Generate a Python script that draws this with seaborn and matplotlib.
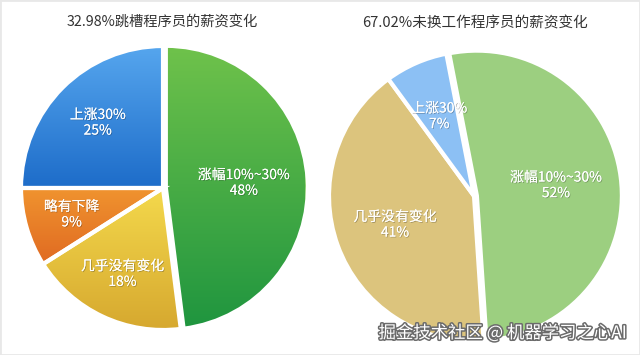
import matplotlib
matplotlib.use('Agg')
import numpy as np
import matplotlib.pyplot as plt
import matplotlib.patheffects as pe
from matplotlib.patches import PathPatch, Rectangle
import seaborn as sns

sns.set_theme(style='white')
plt.rcParams['font.family'] = ['Noto Sans CJK SC', 'DejaVu Sans']

# ---- data ----
left_title = '32.98%跳槽程序员的薪资变化'
left_labels = ['涨幅10%~30%', '几乎没有变化', '略有下降', '上涨30%']
left_values = [48, 18, 9, 25]

right_title = '67.02%未换工作程序员的薪资变化'
right_labels = ['涨幅10%~30%', '几乎没有变化', '上涨30%']
right_values = [52, 41, 7]

watermark = '掘金技术社区 @ 机器学习之心AI'

# left pie is shaded (bottom colour, top colour); right pie is flat
left_grads = [('#1f953f', '#6fc24b'), ('#d6a82f', '#f4d94c'),
              ('#e06a22', '#f0942f'), ('#1d6cc9', '#56a6ee')]
right_colors = ['#9ccf80', '#dcc47d', '#8cc0f4']

W, H = 640, 355
fig = plt.figure(figsize=(W / 100, H / 100), dpi=100)
fig.patch.set_facecolor('white')


def make_ax(cx, cy, r):
    return fig.add_axes([(cx - r) / W, (H - cy - r) / H, 2 * r / W, 2 * r / H])


lbl_fx = [pe.withSimplePatchShadow(offset=(0.6, -0.6), shadow_rgbFace='k', alpha=0.3),
          pe.Normal()]


def draw_labels(ax, wedges, labels, values, dists):
    for w, lab, v, d in zip(wedges, labels, values, dists):
        a = np.deg2rad((w.theta1 + w.theta2) / 2)
        x = w.center[0] + d * w.r * np.cos(a)
        y = w.center[1] + d * w.r * np.sin(a)
        ax.text(x, y, f'{lab}\n{v}%', ha='center', va='center', color='white',
                fontsize=10, linespacing=1.15, path_effects=lbl_fx, zorder=10)


# ---- left pie ----
ax1 = make_ax(163, 188, 142)
w1, _ = ax1.pie(left_values, startangle=90, counterclock=False,
                explode=[0.02, 0, 0, 0],
                colors=[g[1] for g in left_grads],
                wedgeprops=dict(edgecolor='white', linewidth=3))
grad = np.linspace(0, 1, 256).reshape(-1, 1)
for w, (bot, top) in zip(w1, left_grads):
    bb = w.get_path().get_extents()
    cmap = sns.blend_palette([bot, top], as_cmap=True)
    im = ax1.imshow(grad, extent=(bb.x0, bb.x1, bb.y0, bb.y1), origin='lower',
                    cmap=cmap, aspect='auto', zorder=w.get_zorder() + 0.1)
    im.set_clip_path(w)
    ax1.add_patch(PathPatch(w.get_path(), facecolor='none', edgecolor='white',
                            linewidth=3, zorder=w.get_zorder() + 0.2))
draw_labels(ax1, w1, left_labels, left_values, [0.55, 0.67, 0.67, 0.65])
ax1.set_xlim(-1, 1); ax1.set_ylim(-1, 1); ax1.set_aspect('equal')
ax1.axis('off')

# ---- right pie ----
ax2 = make_ax(474, 196, 145)
w2, _ = ax2.pie(right_values, startangle=101, counterclock=False,
                explode=[0.02, 0, 0], colors=right_colors,
                wedgeprops=dict(edgecolor='white', linewidth=3))
draw_labels(ax2, w2, right_labels, right_values, [0.55, 0.58, 0.6])
ax2.set_xlim(-1, 1); ax2.set_ylim(-1, 1); ax2.set_aspect('equal')
ax2.axis('off')

# ---- titles, watermark, frame ----
fig.text(162 / W, 1 - 23 / H, left_title, ha='center', va='center',
         fontsize=10.3, color='#333333')
fig.text(475 / W, 1 - 23 / H, right_title, ha='center', va='center',
         fontsize=10.5, color='#333333')
fig.text(627 / W, 1 - 333 / H, watermark, ha='right', va='center',
         fontsize=12.5, color='white',
         path_effects=[pe.withStroke(linewidth=2.2, foreground='#6b6b6b')])
fig.patches.append(Rectangle((0, 0), 1, 1, transform=fig.transFigure,
                             fill=False, edgecolor='#e8e8e8', linewidth=2))

fig.savefig('out.png', dpi=100)
plt.close(fig)
